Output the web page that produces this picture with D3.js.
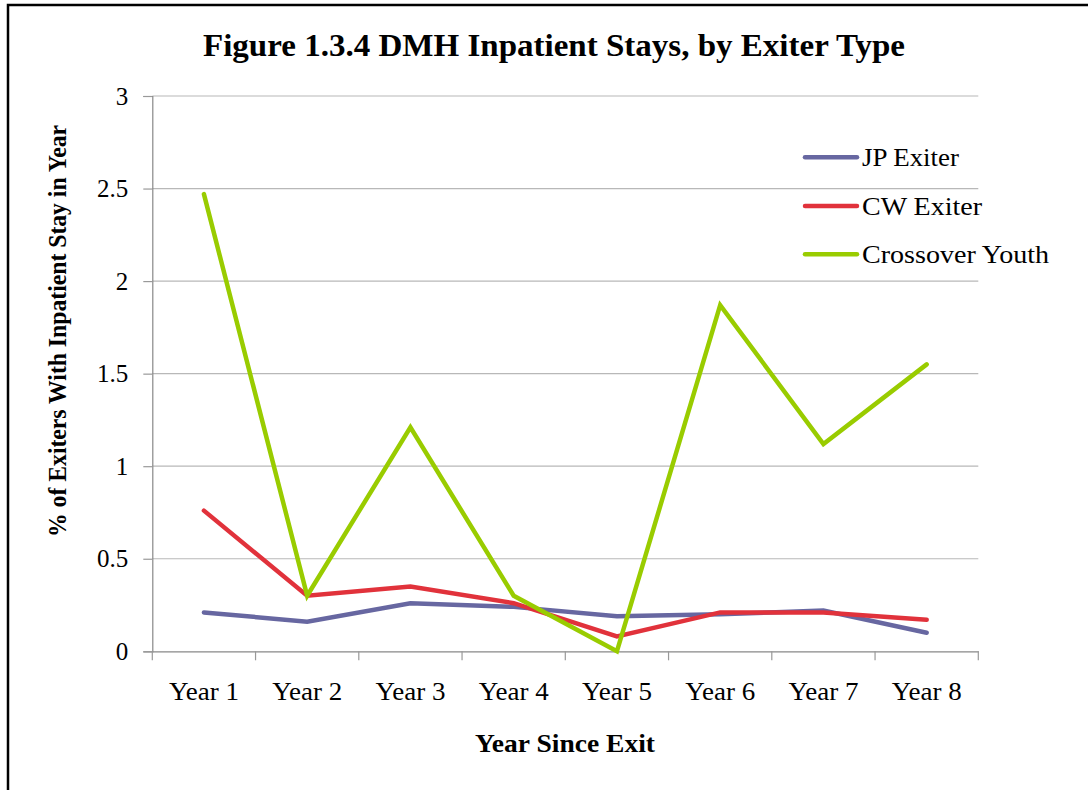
<!DOCTYPE html>
<html>
<head>
<meta charset="utf-8">
<script src="https://cdn.jsdelivr.net/npm/d3@7"></script>
<style>
  html, body { margin: 0; padding: 0; background: #fff; }
  svg { display: block; }
</style>
</head>
<body>
<svg id="chart" width="1088" height="790"></svg>
<script>
const categories = ["Year 1", "Year 2", "Year 3", "Year 4", "Year 5", "Year 6", "Year 7", "Year 8"];
const jpExiter = [0.21, 0.16, 0.26, 0.24, 0.19, 0.20, 0.22, 0.10];
const cwExiter = [0.76, 0.30, 0.35, 0.26, 0.08, 0.21, 0.21, 0.17];
const crossoverYouth = [2.47, 0.30, 1.21, 0.30, 0.00, 1.87, 1.12, 1.55];
const yTicks = [0, 0.5, 1, 1.5, 2, 2.5, 3];
const seriesNames = ["JP Exiter", "CW Exiter", "Crossover Youth"];
const seriesColors = ["#6767A1", "#E1323B", "#99CC00"];
const titleText = "Figure 1.3.4 DMH Inpatient Stays, by Exiter Type";
const yTitle = "% of Exiters With Inpatient Stay in Year";
const xTitle = "Year Since Exit";

(function () {
const series = [jpExiter, cwExiter, crossoverYouth].map((v, i) => ({ name: seriesNames[i], color: seriesColors[i], values: v }));

const svg = d3.select("#chart");
const font = "'Liberation Serif', 'DejaVu Serif', serif";

// outer border
svg.append("rect").attr("x", 8).attr("y", 5).attr("width", 1200).attr("height", 900)
  .attr("fill", "none").attr("stroke", "#000").attr("stroke-width", 2.5);

const pLeft = 152.3, pRight = 978.3, pTop = 96, pBottom = 651.3;
const x = d3.scaleBand().domain(categories).range([pLeft, pRight]).paddingInner(0).paddingOuter(0);
const y = d3.scaleLinear().domain([0, 3]).range([pBottom, pTop]);

// gridlines
svg.append("g").selectAll("line").data(yTicks.filter(t => t > 0)).join("line")
  .attr("x1", pLeft).attr("x2", pRight)
  .attr("y1", d => y(d)).attr("y2", d => y(d))
  .attr("stroke", "#b8b8b8").attr("stroke-width", 1.2);

// y axis
const yAxis = svg.append("g").attr("transform", `translate(${pLeft},0)`)
  .call(d3.axisLeft(y).tickValues(yTicks).tickSize(9).tickPadding(15).tickFormat(d3.format("")));
yAxis.select(".domain").attr("stroke", "#888").attr("stroke-width", 1.2);
yAxis.selectAll(".tick line").attr("stroke", "#999").attr("stroke-width", 1.2);
yAxis.selectAll("text").attr("font-family", font).attr("font-size", 25).attr("fill", "#000");

// x axis
const xAxis = svg.append("g").attr("transform", `translate(0,${pBottom})`)
  .call(d3.axisBottom(x).tickSize(0).tickPadding(31));
xAxis.select(".domain").attr("stroke", "#888").attr("stroke-width", 1.2);
xAxis.selectAll("text").attr("font-family", font).attr("font-size", 25).attr("fill", "#000")
  .attr("textLength", 70).attr("lengthAdjust", "spacingAndGlyphs");
// category boundary ticks
const bounds = categories.map(c => x(c)).concat([pRight]);
svg.append("g").selectAll("line").data(bounds).join("line")
  .attr("x1", d => d).attr("x2", d => d)
  .attr("y1", pBottom).attr("y2", pBottom + 9)
  .attr("stroke", "#999").attr("stroke-width", 1.2);

// lines
const line = d3.line()
  .x((d, i) => x(categories[i]) + x.bandwidth() / 2)
  .y(d => y(d));
svg.append("g").selectAll("path").data(series).join("path")
  .attr("d", d => line(d.values))
  .attr("fill", "none")
  .attr("stroke", d => d.color)
  .attr("stroke-width", 4.5)
  .attr("stroke-linejoin", "miter")
  .attr("stroke-linecap", "round");

// title
svg.append("text").attr("x", 554).attr("y", 56).attr("text-anchor", "middle")
  .attr("font-family", font).attr("font-weight", "bold").attr("font-size", 31)
  .attr("textLength", 702).attr("lengthAdjust", "spacingAndGlyphs")
  .text(titleText);

// y title
svg.append("text").attr("transform", "translate(66,331) rotate(-90)").attr("text-anchor", "middle")
  .attr("font-family", font).attr("font-weight", "bold").attr("font-size", 25)
  .attr("textLength", 412).attr("lengthAdjust", "spacingAndGlyphs")
  .text(yTitle);

// x title
svg.append("text").attr("x", 565).attr("y", 752).attr("text-anchor", "middle")
  .attr("font-family", font).attr("font-weight", "bold").attr("font-size", 25)
  .attr("textLength", 180).attr("lengthAdjust", "spacingAndGlyphs")
  .text(xTitle);

// legend
const legY = [157.3, 206, 254.3];
const legW = [97, 120, 187];
const leg = svg.append("g").selectAll("g").data(series).join("g")
  .attr("transform", (d, i) => `translate(0,${legY[i]})`);
leg.append("line").attr("x1", 805).attr("x2", 857).attr("y1", 0).attr("y2", 0)
  .attr("stroke", d => d.color).attr("stroke-width", 4.5).attr("stroke-linecap", "round");
leg.append("text").attr("x", 862).attr("y", 9)
  .attr("font-family", font).attr("font-size", 25).attr("fill", "#000")
  .attr("textLength", (d, i) => legW[i]).attr("lengthAdjust", "spacingAndGlyphs")
  .text(d => d.name);
})();
</script>
</body>
</html>
